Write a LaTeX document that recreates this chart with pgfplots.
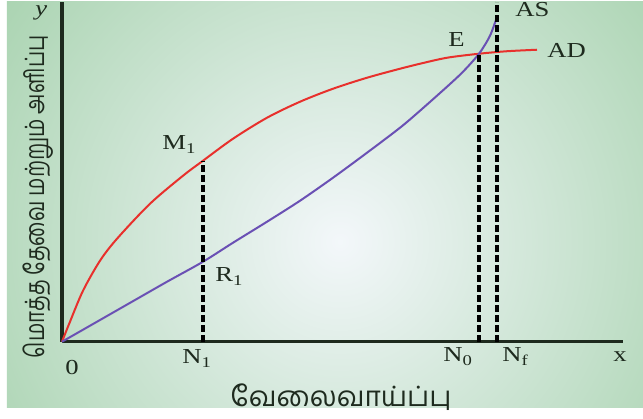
\documentclass[border=0pt]{standalone}
\usepackage{fontspec}
\setmainfont{Liberation Serif}
\newfontfamily\tamil[Script=Tamil]{Hind Madurai}
\usepackage{pgfplots}
\pgfplotsset{compat=1.18}

\definecolor{panelgreen}{HTML}{98CB9F}
\definecolor{panellight}{HTML}{F3F7FA}
\definecolor{adred}{HTML}{E8302C}
\definecolor{aspurple}{HTML}{6A50B4}
\definecolor{axisdark}{HTML}{1E2A1E}

\tikzset{
  lbl/.style={font=\fontsize{16}{19}\selectfont, xscale=1.25, inner sep=0pt, text=axisdark},
  drop/.style={black, line width=2.3pt, dash pattern=on 5pt off 2.5pt},
}

\begin{document}
\begin{tikzpicture}[x=0.75pt, y=0.75pt]
% page and shaded panel, in pixels measured from the origin
\fill[white] (-62,-77) rectangle (581,340);
\begin{scope}
  \clip (-55,-66) rectangle (581,340);
  \fill[panelgreen] (-55,-66) rectangle (581,340);
  \shade[inner color=panellight, outer color=panelgreen] (278,100) circle (520);
\end{scope}

\begin{axis}[
  anchor=origin, at={(0,0)},
  scale only axis, width=420.75pt, height=255pt,
  xmin=0, xmax=561, ymin=0, ymax=340,
  axis lines*=left, axis line style={axisdark, line width=2.6pt},
  xtick=\empty, ytick=\empty,
  clip=false,
]
  % aggregate demand
  \addplot[adred, line width=1.5pt, smooth, tension=0.5] coordinates {
    (0,0) (8,20) (21,51) (38,81) (55,103) (88,138) (121,166) (141,181)
    (171,203) (205,224) (238,240) (271,253) (305,264) (338,273)
    (358,278) (385,284) (417,288) (445,290.5) (475,292)};
  % aggregate supply
  \addplot[aspurple, line width=1.5pt, smooth, tension=0.5] coordinates {
    (0,0) (35,20) (70,40) (105,60) (141,80) (171,99) (205,120)
    (238,141) (271,164) (305,189) (338,214) (358,231) (385,255)
    (401,270) (417,288) (428,306) (435,325)};
  % drop lines
  \addplot[drop] coordinates {(141,0) (141,181)};
  \addplot[drop] coordinates {(417,0) (417,288)};
  \addplot[drop] coordinates {(435,0) (435,340)};

  \node[lbl, anchor=base west] at (axis cs:100,192) {M\textsubscript{1}};
  \node[lbl, anchor=base west] at (axis cs:153,60) {R\textsubscript{1}};
  \node[lbl, anchor=base west] at (axis cs:386,295) {E};
  \node[lbl, anchor=base west] at (axis cs:453,325) {AS};
  \node[lbl, anchor=base west] at (axis cs:485,284) {AD};

  \node[lbl, anchor=base west] at (axis cs:3,-33) {0};
  \node[lbl, anchor=base west] at (axis cs:120,-22) {N\textsubscript{1}};
  \node[lbl, anchor=base west] at (axis cs:381,-20) {N\textsubscript{0}};
  \node[lbl, anchor=base west] at (axis cs:440,-20) {N\textsubscript{f}};
  \node[lbl, anchor=base west] at (axis cs:551,-20) {x};
  \node[lbl, anchor=base west] at (axis cs:-27,326) {\itshape y};

  \node[font=\tamil\fontsize{20}{24}\selectfont, text=axisdark, inner sep=0pt,
        rotate=90, xscale=0.77]
    at (axis cs:-24,145) {மொத்த தேவை மற்றும் அளிப்பு};
  \node[font=\tamil\fontsize{21}{25}\selectfont, text=axisdark, inner sep=0pt]
    at (axis cs:279,-55) {வேலைவாய்ப்பு};
\end{axis}
\end{tikzpicture}
\end{document}
